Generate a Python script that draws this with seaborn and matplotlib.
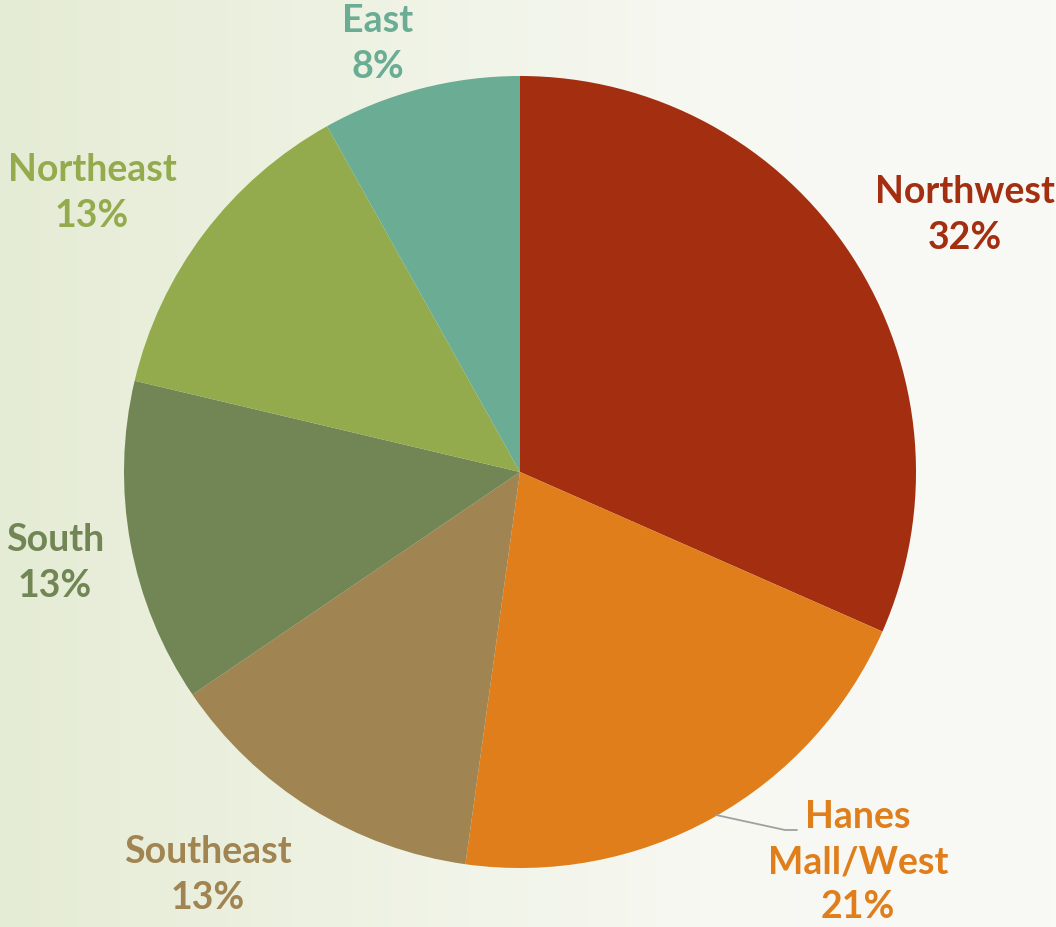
import numpy as np
import matplotlib.pyplot as plt
import seaborn as sns
from matplotlib.colors import LinearSegmentedColormap

regions = ['Northwest', 'Hanes\nMall/West', 'Southeast', 'South', 'Northeast', 'East']
shares = [31.6, 20.6, 13.3, 13.2, 13.2, 8.1]
colors = ['#A32E10', '#DF7E1A', '#A08451', '#718654', '#94AB4D', '#6AAD94']

sns.set_theme(style='white')
plt.rcParams['font.family'] = ['Lato', 'DejaVu Sans']

W, H = 1056, 927
fig = plt.figure(figsize=(W / 100, H / 100), dpi=100)

# background gradient, pale green on the left to near white on the right
bg = fig.add_axes([0, 0, 1, 1])
grad = np.linspace(0, 1, 256)[None, :]
cmap = LinearSegmentedColormap.from_list('bg', ['#E5ECD5', '#EEF2E3', '#F7F8F2', '#F9F9F6'])
bg.imshow(grad, aspect='auto', cmap=cmap, extent=[0, 1, 0, 1])
bg.axis('off')

ax = fig.add_axes([0, 0, 1, 1])
cx, cy, r = 520, H - 472, 396
wedges, _ = ax.pie(shares, colors=colors, startangle=90, counterclock=False,
                   center=(cx, cy), radius=r, frame=True,
                   wedgeprops=dict(linewidth=0))
ax.set_xlim(0, W)
ax.set_ylim(0, H)
ax.set_aspect('equal')
ax.axis('off')

# label placement (pixel coords from top-left)
label_pos = [(965, 215), (858, 862), (208, 875), (55, 563), (92, 193), (378, 44)]
for name, val, col, (lx, ly) in zip(regions, shares, colors, label_pos):
    ax.text(lx, H - ly, f'{name}\n{val:.0f}%', color=col, ha='center', va='center',
            fontsize=27, fontweight='bold', linespacing=1.4)

# leader line for Hanes Mall/West
ax.plot([716, 785, 797], [H - 815, H - 830, H - 830], color='#A0A0A0', lw=1.3)

fig.savefig('out.png', dpi=100)
